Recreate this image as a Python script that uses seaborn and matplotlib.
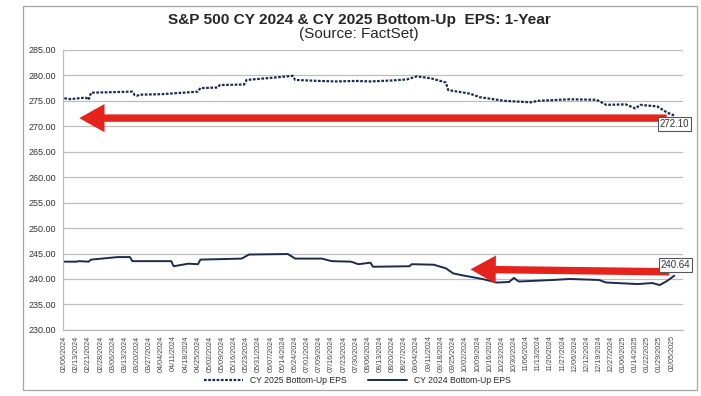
import numpy as np
import pandas as pd
import matplotlib
matplotlib.use("Agg")
import matplotlib.pyplot as plt
import seaborn as sns
from matplotlib.patches import Rectangle, FancyArrowPatch

# ==========================================
# Data (trading-day index)
# ==========================================

cy25_day = [0, 3, 4, 8, 9, 10, 11, 20, 28, 29, 30, 31, 40, 55, 56, 63, 64, 74, 75,
            85, 94, 95, 105, 112, 120, 126, 135, 141, 145, 151, 157, 158, 167,
            171, 181, 192, 195, 208, 219, 223, 231, 235, 237, 244, 248, 251]
cy25_eps = [275.5, 275.3, 275.4, 275.6, 275.6, 275.2, 276.6, 276.7, 276.8, 276.1,
            276.0, 276.2, 276.3, 276.8, 277.5, 277.6, 278.1, 278.2, 279.1,
            279.5, 279.9, 279.1, 278.9, 278.8, 278.9, 278.8, 279.0, 279.2, 279.8,
            279.4, 278.6, 277.1, 276.4, 275.7, 275.0, 274.7, 275.0, 275.3, 275.2,
            274.2, 274.3, 273.5, 274.2, 273.9, 272.7, 272.1]

cy24_day = [0, 5, 6, 10, 11, 22, 27, 28, 44, 45, 51, 55, 56, 73, 76, 92, 95, 106,
            110, 118, 121, 126, 127, 142, 143, 152, 157, 160, 164, 172, 178, 183,
            185, 187, 201, 208, 220, 223, 236, 242, 245, 248, 251]
cy24_eps = [243.4, 243.4, 243.5, 243.4, 243.8, 244.3, 244.3, 243.5, 243.5, 242.5,
            243.0, 242.9, 243.8, 244.0, 244.8, 244.9, 244.0, 244.0,
            243.5, 243.4, 242.9, 243.2, 242.4, 242.5, 242.9, 242.8, 242.1, 241.1,
            240.7, 240.0, 239.3, 239.4, 240.2, 239.5, 239.8, 240.0, 239.8, 239.3,
            239.0, 239.2, 238.8, 239.6, 240.64]

tick_labels = [
    "02/06/2024", "02/13/2024", "02/21/2024", "02/28/2024", "03/06/2024",
    "03/13/2024", "03/20/2024", "03/27/2024", "04/04/2024", "04/11/2024",
    "04/18/2024", "04/25/2024", "05/02/2024", "05/09/2024", "05/16/2024",
    "05/23/2024", "05/31/2024", "06/07/2024", "06/14/2024", "06/24/2024",
    "07/01/2024", "07/09/2024", "07/16/2024", "07/23/2024", "07/30/2024",
    "08/06/2024", "08/13/2024", "08/20/2024", "08/27/2024", "09/04/2024",
    "09/11/2024", "09/18/2024", "09/25/2024", "10/02/2024", "10/09/2024",
    "10/16/2024", "10/23/2024", "10/30/2024", "11/06/2024", "11/13/2024",
    "11/20/2024", "11/27/2024", "12/06/2024", "12/12/2024", "12/19/2024",
    "12/27/2024", "01/06/2025", "01/14/2025", "01/22/2025", "01/29/2025",
    "02/05/2025",
]
tick_step = 5

last_25 = 272.10
last_24 = 240.64

# ==========================================
# Plot
# ==========================================

sns.set_style("white")
plt.rcParams["font.family"] = ["Liberation Sans", "DejaVu Sans"]

navy = "#1c2a4e"
red = "#e3231c"
grid = "#bdbdbd"

fig = plt.figure(figsize=(7.01, 3.96), dpi=100)
ax = fig.add_axes([0.09, 0.167, 0.884, 0.707])

df25 = pd.DataFrame({"day": cy25_day, "eps": cy25_eps})
df24 = pd.DataFrame({"day": cy24_day, "eps": cy24_eps})

sns.lineplot(data=df25, x="day", y="eps", ax=ax, color=navy, lw=1.6,
             linestyle=(0, (1.2, 0.7)), label="CY 2025 Bottom-Up EPS")
sns.lineplot(data=df24, x="day", y="eps", ax=ax, color=navy, lw=1.4,
             label="CY 2024 Bottom-Up EPS")

ax.set_ylim(230, 285)
ax.set_yticks(np.arange(230, 286, 5))
ax.set_yticklabels([f"{v:.2f}" for v in np.arange(230, 286, 5)], fontsize=6.5,
                   color="#333333")
ax.set_xlim(-0.5, 254.5)
ax.set_xticks(np.arange(len(tick_labels)) * tick_step)
ax.set_xticklabels(tick_labels, rotation=90, fontsize=5.2, color="#444444")
ax.set_xticks(np.arange(0, 255), minor=True)
ax.tick_params(axis="x", which="minor", length=2, color=grid, width=0.5)
ax.tick_params(axis="x", which="major", length=2, color=grid, pad=2)
ax.tick_params(axis="y", length=3, color=grid, pad=2)
ax.set_xlabel("")
ax.set_ylabel("")

ax.grid(axis="y", color=grid, lw=0.9)
for s in ["top", "right"]:
    ax.spines[s].set_visible(False)
for s in ["left", "bottom"]:
    ax.spines[s].set_color(grid)
    ax.spines[s].set_linewidth(0.9)

# Red arrows
arrow_style = "simple,head_length=1.3,head_width=1.45,tail_width=0.38"
ax.add_patch(FancyArrowPatch((249, 271.6), (5, 271.6), arrowstyle=arrow_style,
                             mutation_scale=14, color=red, lw=0, zorder=4))
ax.add_patch(FancyArrowPatch((250, 241.4), (166, 241.9), arrowstyle=arrow_style,
                             mutation_scale=14, color=red, lw=0, zorder=4))

# Last value labels
box = dict(boxstyle="square,pad=0.2", fc="white", ec="#555555", lw=0.8)
ax.text(251, 270.5, f"{last_25:.2f}", fontsize=7, ha="center", va="center",
        color="#333333", bbox=box, zorder=5)
ax.text(251.5, 242.7, f"{last_24:.2f}", fontsize=7, ha="center", va="center",
        color="#333333", bbox=box, zorder=5)

# Titles
fig.text(0.512, 0.949, "S&P 500 CY 2024 & CY 2025 Bottom-Up  EPS: 1-Year",
         ha="center", va="center", fontsize=11.1, fontweight="bold")
fig.text(0.512, 0.915, "(Source: FactSet)", ha="center", va="center", fontsize=11)

ax.legend(loc="center", bbox_to_anchor=(0.51, 0.04), bbox_transform=fig.transFigure,
          ncol=2, frameon=False, fontsize=6.2, handlelength=4.5, columnspacing=2.5)

fig.patches.append(Rectangle((23 / 701, 1 - 390 / 396), 674 / 701, 384 / 396,
                             transform=fig.transFigure, fill=False,
                             ec="#a6a6a6", lw=0.9))

fig.savefig("out.png", dpi=100, facecolor="white")
